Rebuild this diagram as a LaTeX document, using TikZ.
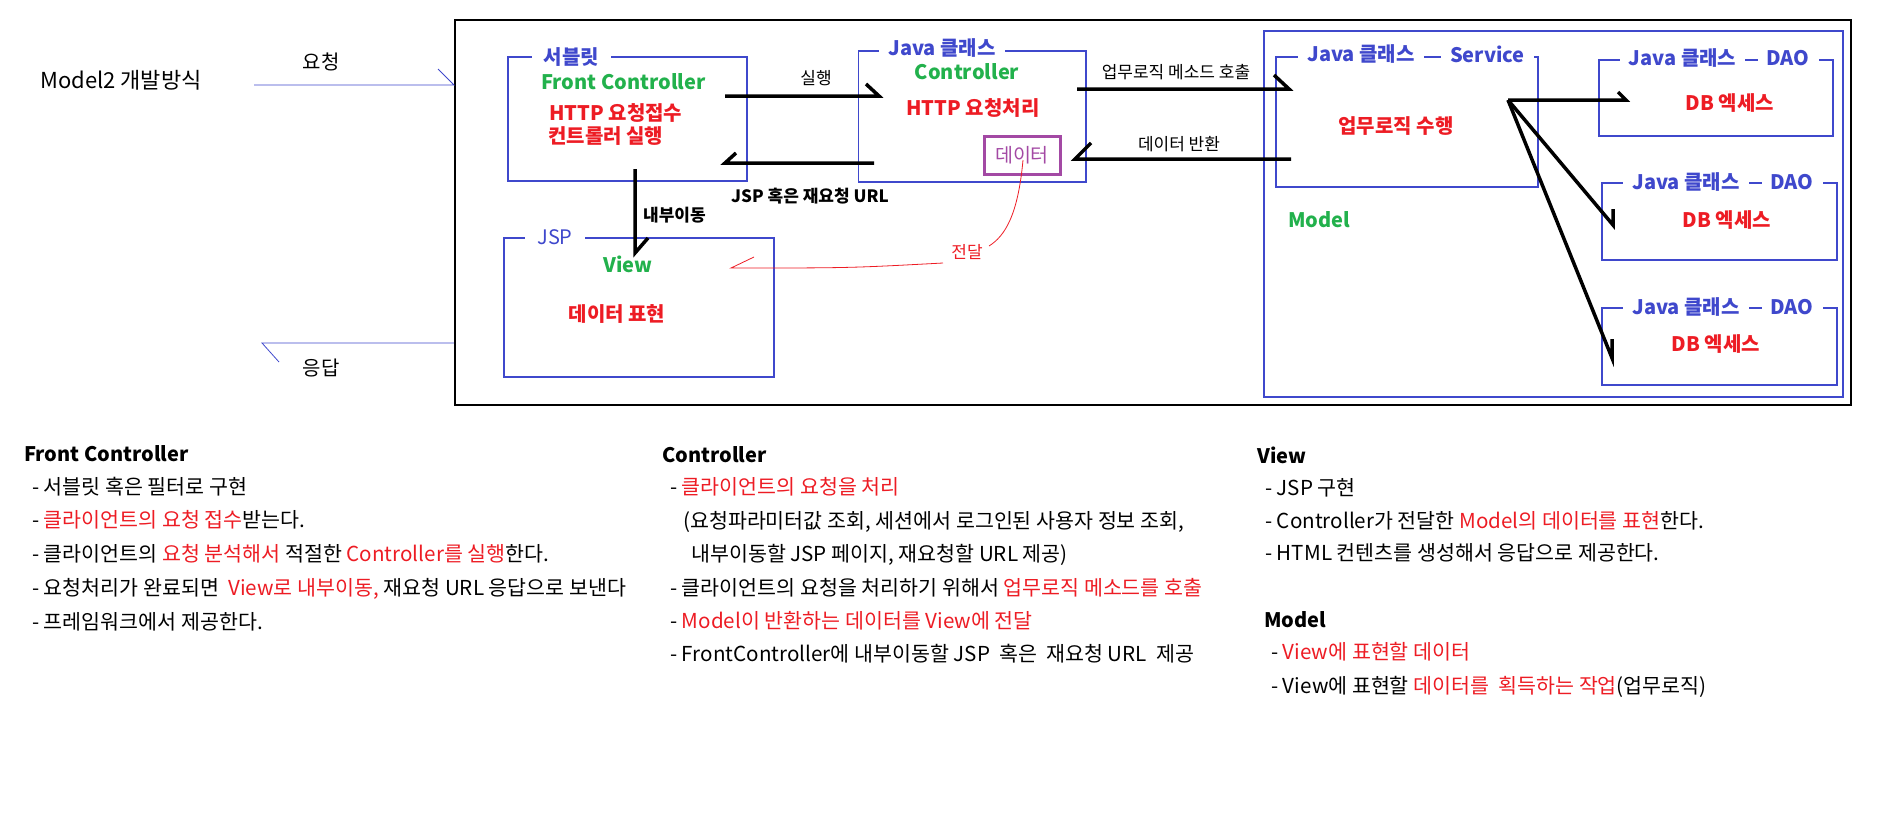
\documentclass[tikz,border=0pt]{standalone}
\usepackage{fontspec}
\setmainfont{Noto Sans CJK KR}
\usetikzlibrary{positioning}

\definecolor{pblue}{HTML}{3F48CC}
\definecolor{pgreen}{HTML}{22B14C}
\definecolor{pred}{HTML}{ED1C24}
\definecolor{ppurple}{HTML}{A349A4}

\tikzset{
  box/.style={draw=pblue, line width=1.2pt, inner sep=0pt},
  boxtitle/.style={fill=white, text=pblue, inner xsep=9pt, inner ysep=1pt,
    font=\fontsize{20}{24}\selectfont\bfseries},
  role/.style={text=pgreen, inner sep=0pt, font=\fontsize{20}{24}\selectfont\bfseries},
  job/.style={text=pred, inner sep=0pt, font=\fontsize{20}{24}\selectfont\bfseries},
  flow/.style={line width=3.5pt},
  reqline/.style={draw=pblue, line width=0.8pt},
  tag/.style={inner sep=0pt, font=\fontsize{17}{20}\selectfont},
  head/.style={inner sep=0pt, anchor=west, font=\fontsize{20}{24}\selectfont\bfseries},
  notes/.style={inner sep=0pt, anchor=north west, align=left},
}
\newcommand{\hl}[1]{\textcolor{pred}{#1}}

\begin{document}
\begin{tikzpicture}[x=1pt, y=-1pt]
    \useasboundingbox (0,0) rectangle (1887,825);

    % outer frame and request / response
    \node[draw, line width=1.5pt, inner sep=0pt, minimum width=1396pt, minimum height=385pt]
        (frame) at (1152.75,212.5) {};
    \node[inner sep=0pt, anchor=west, font=\fontsize{22}{26}\selectfont] (model2) at (40,80) {Model2 개발방식};

    \coordinate (req-a) at (254,85);
    \coordinate (req-b) at (454,85);
    \coordinate (res-a) at (454,343);
    \coordinate (res-b) at (262,343);
    \draw[reqline] (req-a) -- (req-b) -- ++(-16,-16);
    \draw[reqline] (res-a) -- (res-b) -- ++(17,19);
    \node[tag, font=\fontsize{20}{24}\selectfont] (reqlbl) at (321,62) {요청};
    \node[tag, font=\fontsize{20}{24}\selectfont] (reslbl) at (321,368) {응답};

    % front controller
    \node[box, minimum width=239pt, minimum height=124pt] (fcbox) at (627.5,119) {};
    \node[boxtitle, inner xsep=12pt] (fctitle) at (571.5,57) {서블릿};
    \node[role, anchor=west] (fcrole) at (541,82) {Front Controller};
    \node[job, anchor=west, align=left, font=\fontsize{20}{23}\selectfont\bfseries]
        (fcjob) at (548,124.5) {\hspace*{1pt}HTTP 요청접수\\컨트롤러 실행};

    % controller
    \node[box, minimum width=227.5pt, minimum height=131pt] (ctrlbox) at (972.25,116.5) {};
    \node[boxtitle] (ctrltitle) at (942,48) {Java 클래스};
    \node[role] (ctrlrole) at (967,72) {Controller};
    \node[job] (ctrljob) at (973,108) {HTTP 요청처리};
    \node[draw=ppurple, line width=3pt, text=ppurple, inner sep=0pt,
        minimum width=76pt, minimum height=38pt, font=\fontsize{19.5}{23}\selectfont]
        (data) at (1022,155) {데이터};

    % view
    \node[box, minimum width=270pt, minimum height=139pt] (jspbox) at (639,307.5) {};
    \node[boxtitle, font=\fontsize{20}{24}\selectfont, inner xsep=12pt] (jsptitle) at (555,237) {JSP};
    \node[role] (viewrole) at (628,264) {View};
    \node[job] (viewjob) at (617,314) {데이터 표현};

    % model
    \node[box, minimum width=579pt, minimum height=366pt] (modelbox) at (1553.5,214) {};
    \node[role] (modelrole) at (1319,220) {Model};
    \node[box, minimum width=262pt, minimum height=130pt] (svcbox) at (1407,122) {};
    \node[boxtitle] (svctitle) at (1361,54) {Java 클래스};
    \node[boxtitle] (svcname) at (1487.5,54) {Service};
    \node[job] (svcjob) at (1396,126) {업무로직 수행};

    \node[box, minimum width=234pt, minimum height=76pt] (dao1) at (1716,98) {};
    \node[boxtitle] (dao1title) at (1682.5,58) {Java 클래스};
    \node[boxtitle] (dao1name) at (1788,58) {DAO};
    \node[job] (dao1job) at (1730,103) {DB 엑세스};

    \node[box, minimum width=235pt, minimum height=77pt] (dao2) at (1719.5,221.5) {};
    \node[boxtitle] (dao2title) at (1686,182) {Java 클래스};
    \node[boxtitle] (dao2name) at (1792,182) {DAO};
    \node[job] (dao2job) at (1727,220) {DB 엑세스};

    \node[box, minimum width=235pt, minimum height=77pt] (dao3) at (1719.5,346.5) {};
    \node[boxtitle] (dao3title) at (1686,307) {Java 클래스};
    \node[boxtitle] (dao3name) at (1792,307) {DAO};
    \node[job] (dao3job) at (1716,344) {DB 엑세스};

    % black flows
    \coordinate (run-a) at (725,96);
    \coordinate (run-b) at (879,96);
    \coordinate (back-a) at (874,163);
    \coordinate (back-b) at (725,163);
    \coordinate (fwd-a) at (635,169);
    \coordinate (fwd-b) at (635,253);
    \coordinate (call-a) at (1077,89);
    \coordinate (call-b) at (1289,89);
    \coordinate (ret-a) at (1291,159);
    \coordinate (ret-b) at (1075,159);
    \coordinate (fan) at (1508,100);
    \coordinate (fan-1) at (1626,100);
    \coordinate (fan-2) at (1613,225);
    \coordinate (fan-3) at (1612,358);

    \draw[flow] (run-a) -- (run-b) -- ++(-13,-12);
    \draw[flow] (back-a) -- (back-b) -- ++(11,-10);
    \draw[flow] (fwd-a) -- (fwd-b) -- ++(13,-15);
    \draw[flow] (call-a) -- (call-b) -- ++(-15,-14);
    \draw[flow] (ret-a) -- (ret-b) -- ++(16,-16);
    \draw[flow] (fan) -- (fan-1) -- ++(-8,-8);
    \draw[flow] (fan) -- (fan-2) -- ++(0,-16);
    \draw[flow] (fan) -- (fan-3) -- ++(0,-19);

    \node[tag] (runlbl) at (816,78) {실행};
    \node[tag, font=\fontsize{17}{20}\selectfont\bfseries] (backlbl) at (810,196) {JSP 혹은 재요청 URL};
    \node[tag, anchor=west, font=\fontsize{17}{20}\selectfont\bfseries] (fwdlbl) at (643,215) {내부이동};
    \node[tag] (calllbl) at (1176,72) {업무로직 메소드 호출};
    \node[tag] (retlbl) at (1179,144) {데이터 반환};

    % data handed to the view
    \coordinate (pass-a) at (1023,160);
    \coordinate (pass-b) at (989,246);
    \coordinate (pass-c) at (943,263);
    \coordinate (pass-d) at (731,268);
    \draw[pred, line width=0.8pt] (pass-a) .. controls (1018,215) and (1005,236) .. (pass-b);
    \draw[pred, line width=0.8pt] (pass-c) .. controls (850,268) .. (pass-d) -- ++(23,-11);
    \node[tag, text=pred] (passlbl) at (967,252) {전달};

    % notes below
    \node[head] (fchead) at (24,454) {Front Controller};
    \node[notes, font=\fontsize{20.6}{33.8}\selectfont] (fcnotes) at (32,476.5) {%
        - 서블릿 혹은 필터로 구현\\
        - \hl{클라이언트의 요청 접수}받는다.\\
        - 클라이언트의 \hl{요청 분석해서} 적절한 \hl{Controller를 실행}한다.\\
        - 요청처리가 완료되면 \ \hl{View로 내부이동,} 재요청 URL 응답으로 보낸다\\
        - 프레임워크에서 제공한다.};

    \node[head] (ctrlhead) at (662,455) {Controller};
    \node[notes, font=\fontsize{20.6}{33.4}\selectfont] (ctrlnotes) at (670,477.5) {%
        - \hl{클라이언트의 요청을 처리}\\
        \hspace*{13pt}(요청파라미터값 조회, 세션에서 로그인된 사용자 정보 조회,\\
        \hspace*{21pt}내부이동할 JSP 페이지, 재요청할 URL 제공)\\
        - 클라이언트의 요청을 처리하기 위해서 \hl{업무로직 메소드를 호출}\\
        - \hl{Model이 반환하는 데이터를 View에 전달}\\
        - FrontController에 내부이동할 JSP \ 혹은 \ 재요청 URL \ 제공};

    \node[head] (viewhead) at (1257,455) {View};
    \node[notes, font=\fontsize{20.6}{32.5}\selectfont] (viewnotes) at (1265,478.5) {%
        - JSP 구현\\
        - Controller가 전달한 \hl{Model의 데이터를 표현}한다.\\
        - HTML 컨텐츠를 생성해서 응답으로 제공한다.};

    \node[head] (modelhead) at (1264,620) {Model};
    \node[notes, font=\fontsize{20.6}{34}\selectfont] (modelnotes) at (1271,642.5) {%
        - \hl{View에 표현할 데이터}\\
        - View에 표현할 \hl{데이터를} \ \hl{획득하는 작업}(업무로직)};
\end{tikzpicture}
\end{document}
